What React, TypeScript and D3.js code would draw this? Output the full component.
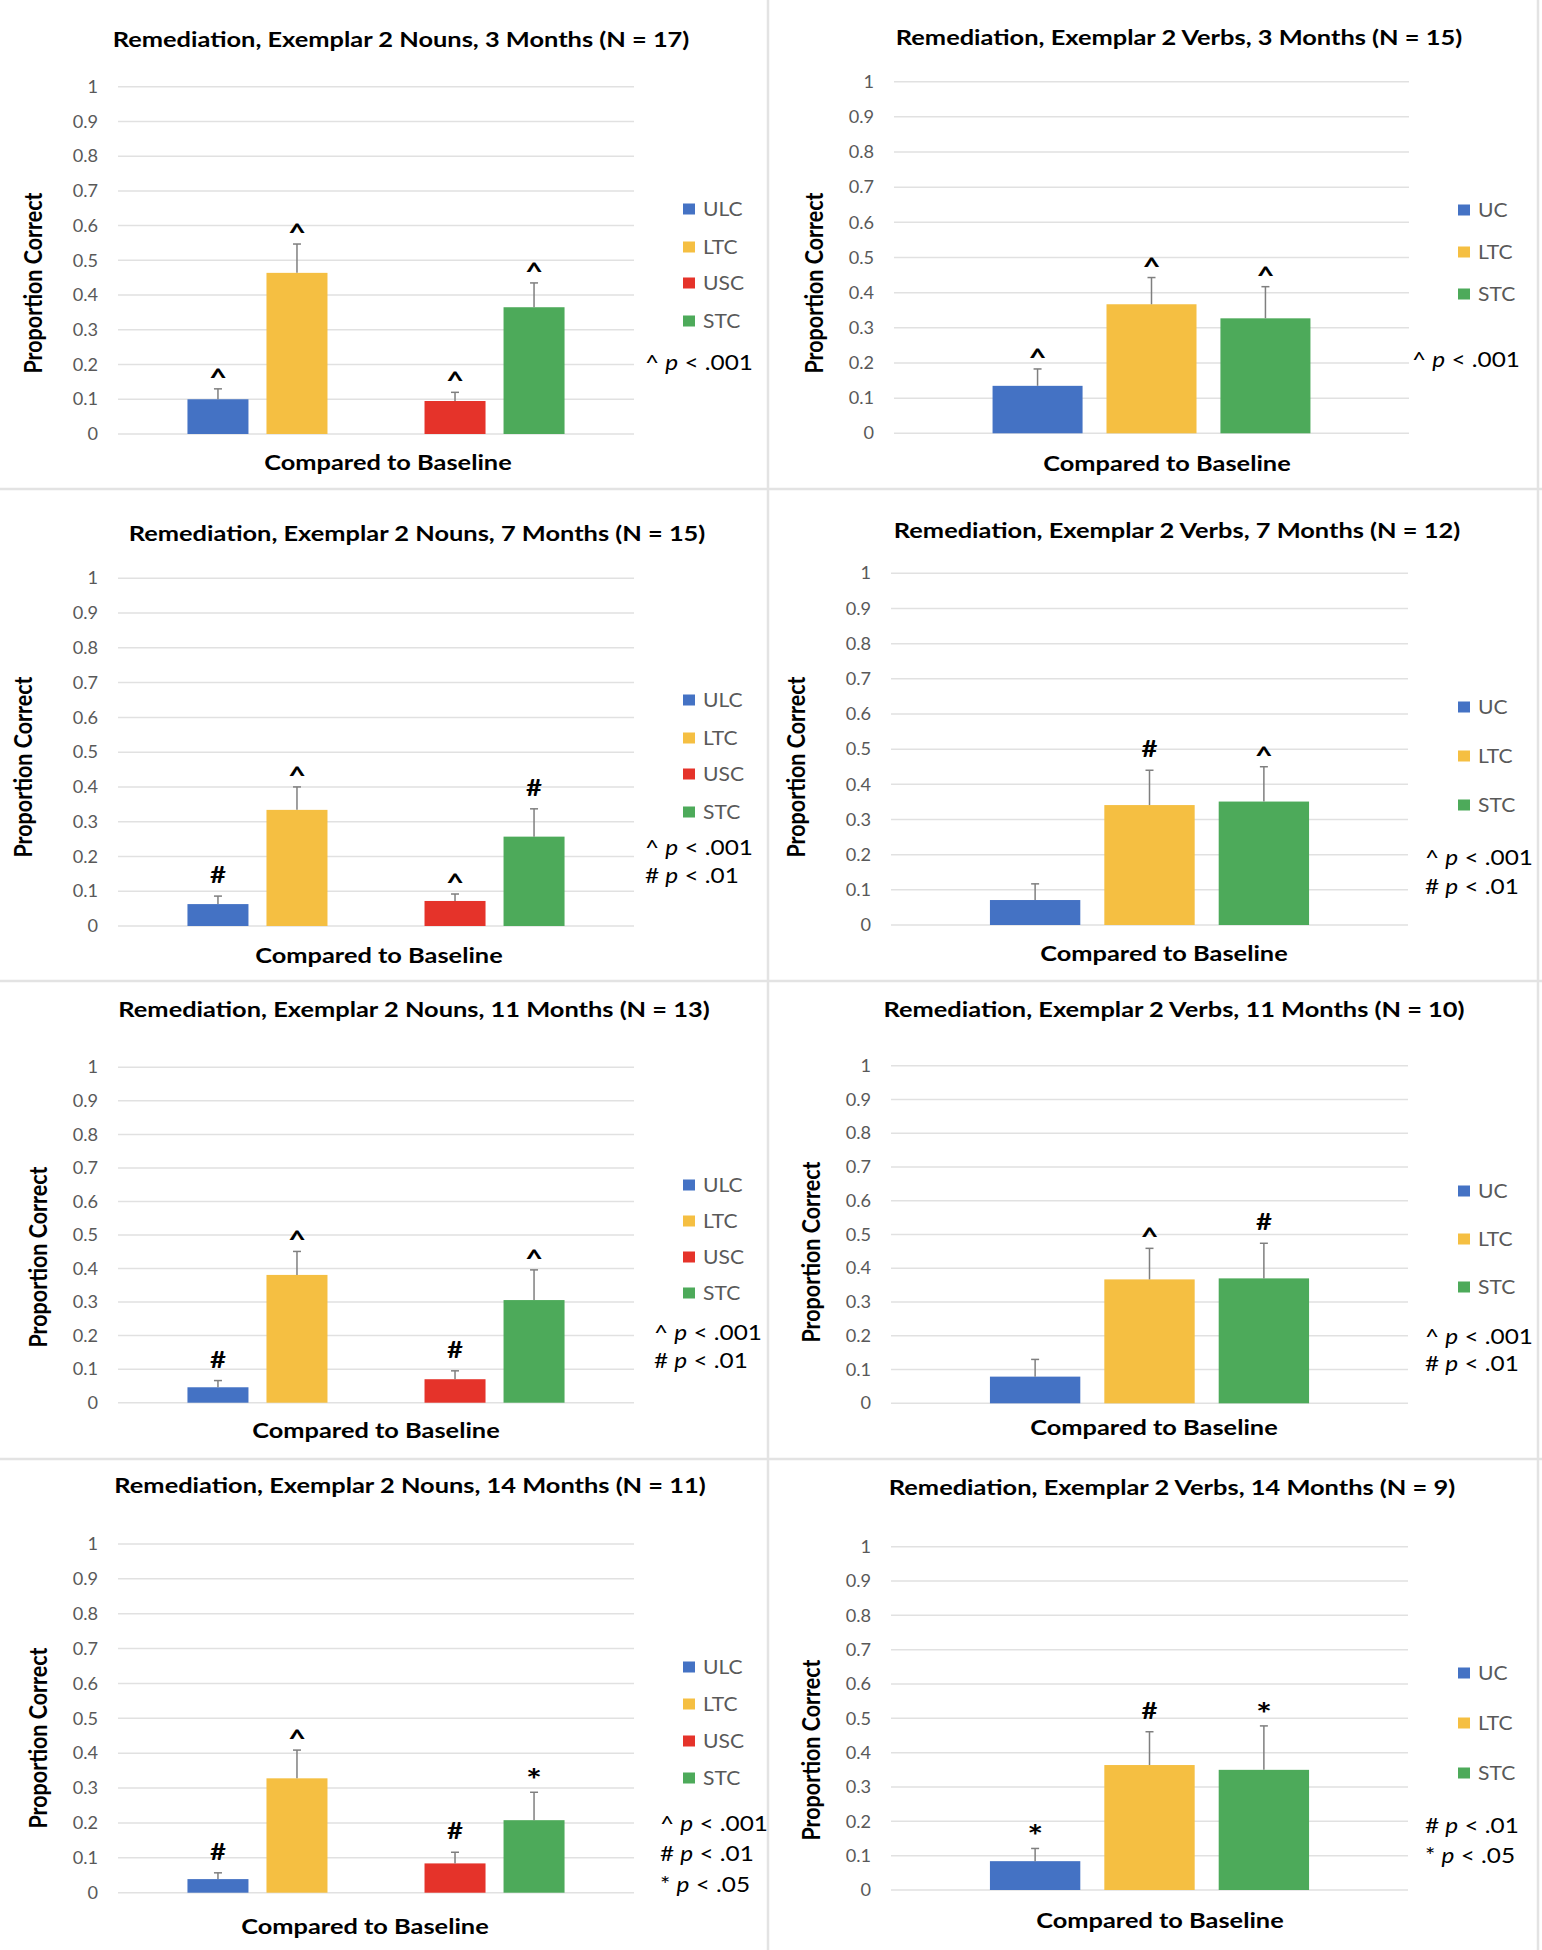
import React from "react";
import * as d3 from "d3";

// ---------- DATA ----------
const nounSeries = ["ULC", "LTC", "USC", "STC"];
const verbSeries = ["UC", "LTC", "STC"];
const nounSlots = ["ULC", "LTC", "", "USC", "STC"];
const verbSlots = ["UC", "LTC", "STC"];
const yTicks = [0, 0.1, 0.2, 0.3, 0.4, 0.5, 0.6, 0.7, 0.8, 0.9, 1];
const yTickLabels = ["0", "0.1", "0.2", "0.3", "0.4", "0.5", "0.6", "0.7", "0.8", "0.9", "1"];
const xCategory = "Compared to Baseline";
const yTitle = "Proportion Correct";

const panelTitles = [
  "Remediation, Exemplar 2 Nouns, 3 Months (N = 17)",
  "Remediation, Exemplar 2 Verbs, 3 Months (N = 15)",
  "Remediation, Exemplar 2 Nouns, 7 Months (N = 15)",
  "Remediation, Exemplar 2 Verbs, 7 Months (N = 12)",
  "Remediation, Exemplar 2 Nouns, 11 Months (N = 13)",
  "Remediation, Exemplar 2 Verbs, 11 Months (N = 10)",
  "Remediation, Exemplar 2 Nouns, 14 Months (N = 11)",
  "Remediation, Exemplar 2 Verbs, 14 Months (N = 9)",
];
const panelKinds = ["noun", "verb", "noun", "verb", "noun", "verb", "noun", "verb"];

const panelValues = [
  [0.10, 0.464, 0.095, 0.365],
  [0.135, 0.367, 0.327],
  [0.063, 0.334, 0.072, 0.257],
  [0.071, 0.341, 0.351],
  [0.046, 0.381, 0.07, 0.306],
  [0.079, 0.367, 0.37],
  [0.039, 0.328, 0.084, 0.208],
  [0.084, 0.364, 0.35],
];
const panelErrors = [
  [0.03, 0.083, 0.025, 0.07],
  [0.048, 0.076, 0.09],
  [0.023, 0.066, 0.02, 0.08],
  [0.046, 0.099, 0.099],
  [0.02, 0.07, 0.025, 0.09],
  [0.051, 0.092, 0.104],
  [0.018, 0.081, 0.032, 0.08],
  [0.037, 0.097, 0.128],
];
const panelMarks = [
  ["^", "^", "^", "^"],
  ["^", "^", "^"],
  ["#", "^", "^", "#"],
  ["", "#", "^"],
  ["#", "^", "#", "^"],
  ["", "^", "#"],
  ["#", "^", "#", "*"],
  ["*", "#", "*"],
];
const noteSymbols = [
  ["^"],
  ["^"],
  ["^", "#"],
  ["^", "#"],
  ["^", "#"],
  ["^", "#"],
  ["^", "#", "*"],
  ["#", "*"],
];
const noteThresholds = [
  [".001"],
  [".001"],
  [".001", ".01"],
  [".001", ".01"],
  [".001", ".01"],
  [".001", ".01"],
  [".001", ".01", ".05"],
  [".01", ".05"],
];

// ---------- STYLE / LAYOUT ----------
const seriesColor: Record<string, string> = {
  ULC: "#4472C4",
  UC: "#4472C4",
  LTC: "#F5BF42",
  USC: "#E5332A",
  STC: "#4DAA5A",
};

type Layout = {
  pl: number; pr: number; y1: number; y0: number;
  tx: number; ty: number; ytx: number; yty: number; xtx: number; xty: number;
  lx: number; ly: number[]; nx: number; ny: number[];
};
const layouts: Layout[] = [
  { pl: 118, pr: 634, y1: 86.7, y0: 434, tx: 401, ty: 39, ytx: 32, yty: 283, xtx: 388, xty: 462, lx: 683, ly: [209, 247, 283, 321], nx: 645, ny: [362] },
  { pl: 894, pr: 1409, y1: 81.7, y0: 433.3, tx: 1179, ty: 37, ytx: 813, yty: 283, xtx: 1167, xty: 463, lx: 1458, ly: [210, 252, 294], nx: 1412, ny: [359] },
  { pl: 118, pr: 634, y1: 578.3, y0: 926, tx: 417, ty: 533, ytx: 22, yty: 767, xtx: 379, xty: 955, lx: 683, ly: [700, 738, 774, 812], nx: 645, ny: [847, 875] },
  { pl: 891, pr: 1408, y1: 573.3, y0: 925, tx: 1177, ty: 530, ytx: 795, yty: 767, xtx: 1164, xty: 953, lx: 1458, ly: [707, 756, 805], nx: 1425, ny: [857, 886] },
  { pl: 118, pr: 634, y1: 1067.3, y0: 1402.7, tx: 414, ty: 1009, ytx: 37, yty: 1257, xtx: 376, xty: 1430, lx: 683, ly: [1185, 1221, 1257, 1293], nx: 654, ny: [1332, 1360] },
  { pl: 891, pr: 1408, y1: 1065.7, y0: 1403.3, tx: 1174, ty: 1009, ytx: 810, yty: 1252, xtx: 1154, xty: 1427, lx: 1458, ly: [1191, 1239, 1287], nx: 1425, ny: [1336, 1363] },
  { pl: 118, pr: 634, y1: 1544, y0: 1892.7, tx: 410, ty: 1485, ytx: 37, yty: 1738, xtx: 365, xty: 1926, lx: 683, ly: [1667, 1704, 1741, 1778], nx: 660, ny: [1823, 1853, 1884] },
  { pl: 891, pr: 1408, y1: 1546.7, y0: 1890, tx: 1172, ty: 1487, ytx: 810, yty: 1750, xtx: 1160, xty: 1920, lx: 1458, ly: [1673, 1723, 1773], nx: 1425, ny: [1825, 1855] },
];

const FONT = "Lato, 'Open Sans', sans-serif";
const SX = 1.18; // horizontal stretch of the original figure's text
const markBaseline: Record<string, number> = { "^": 3, "#": 13, "*": 1 };
const markSize: Record<string, number> = { "^": 25, "#": 22, "*": 30 };

function T({ x, y, sx = SX, children, ...rest }: any) {
  return (
    <text transform={`translate(${x},${y}) scale(${sx},1)`} fontFamily={FONT} {...rest}>
      {children}
    </text>
  );
}

function Panel({ i }: { i: number }) {
  const L = layouts[i];
  const kind = panelKinds[i];
  const series = kind === "noun" ? nounSeries : verbSeries;
  const slots = kind === "noun" ? nounSlots : verbSlots;
  const y = d3.scaleLinear().domain([0, 1]).range([L.y0, L.y1]);
  const x = d3
    .scaleBand<string>()
    .domain(slots.map((s) => (s === "" ? "gap" : s)))
    .range([L.pl, L.pr])
    .paddingInner(kind === "noun" ? 0.228 : 0.21)
    .paddingOuter(kind === "noun" ? 0.879 : 0.865);
  const vals = panelValues[i];
  const errs = panelErrors[i];
  const marks = panelMarks[i];
  return (
    <g>
      <T x={L.tx} y={L.ty} sx={1.21} textAnchor="middle" dominantBaseline="central" fontWeight={700} fontSize={21} fill="#000">
        {panelTitles[i]}
      </T>
      {yTicks.map((t, k) => (
        <g key={k}>
          <line x1={L.pl} x2={L.pr} y1={y(t)} y2={y(t)} stroke="#e1e1e1" strokeWidth={1.5} />
          <T x={L.pl - 20} y={y(t)} sx={1.1} textAnchor="end" dominantBaseline="central" fontSize={16.5} fill="#595959">
            {yTickLabels[k]}
          </T>
        </g>
      ))}
      {series.map((s, k) => {
        const bx = x(s)!;
        const bw = x.bandwidth();
        const v = vals[k];
        const et = v + errs[k];
        const cx = bx + bw / 2;
        const m = marks[k];
        return (
          <g key={s}>
            <rect x={bx} y={y(v)} width={bw} height={y(0) - y(v)} fill={seriesColor[s]} />
            <line x1={cx} x2={cx} y1={y(v)} y2={y(et)} stroke="#7f7f7f" strokeWidth={1.5} />
            <line x1={cx - 4} x2={cx + 4} y1={y(et)} y2={y(et)} stroke="#7f7f7f" strokeWidth={1.5} />
            {m && (
              <T x={cx} y={y(et) - markBaseline[m]} sx={1.25} textAnchor="middle" fontWeight={700} fontSize={markSize[m]} fill="#000">
                {m}
              </T>
            )}
          </g>
        );
      })}
      <text
        transform={`translate(${L.ytx},${L.yty}) rotate(-90) scale(1,${SX})`}
        textAnchor="middle"
        dominantBaseline="central"
        fontFamily={FONT}
        fontWeight={700}
        fontSize={21.5}
        fill="#000"
      >
        {yTitle}
      </text>
      <T x={L.xtx} y={L.xty} textAnchor="middle" dominantBaseline="central" fontWeight={700} fontSize={21.5} fill="#000">
        {xCategory}
      </T>
      {series.map((s, k) => (
        <g key={"lg" + s}>
          <rect x={L.lx} y={L.ly[k] - 5.5} width={12} height={11} fill={seriesColor[s]} />
          <T x={L.lx + 20} y={L.ly[k]} sx={1.14} dominantBaseline="central" fontSize={18.5} fill="#595959">
            {s}
          </T>
        </g>
      ))}
      {noteSymbols[i].map((sym, k) => (
        <T key={"n" + k} x={L.nx} y={L.ny[k]} sx={1.16} dominantBaseline="central" fontSize={21} fill="#000">
          {sym + " "}
          <tspan fontStyle="italic">p</tspan>
          {" < " + noteThresholds[i][k]}
        </T>
      ))}
    </g>
  );
}

const hSeparators = [489, 981, 1459];
const vSeparators = [768, 1538];

export default function App() {
  return (
    <svg
      width={1542}
      height={1950}
      style={{ position: "absolute", left: 0, top: 0, display: "block", background: "#fff" }}
    >
      <rect x={0} y={0} width={1542} height={1950} fill="#fff" />
      {hSeparators.map((h) => (
        <line key={"h" + h} x1={0} x2={1542} y1={h} y2={h} stroke="#e3e3e3" strokeWidth={2.5} />
      ))}
      {vSeparators.map((v) => (
        <line key={"v" + v} x1={v} x2={v} y1={0} y2={1950} stroke="#e3e3e3" strokeWidth={2.5} />
      ))}
      {panelTitles.map((_, i) => (
        <Panel key={i} i={i} />
      ))}
    </svg>
  );
}
